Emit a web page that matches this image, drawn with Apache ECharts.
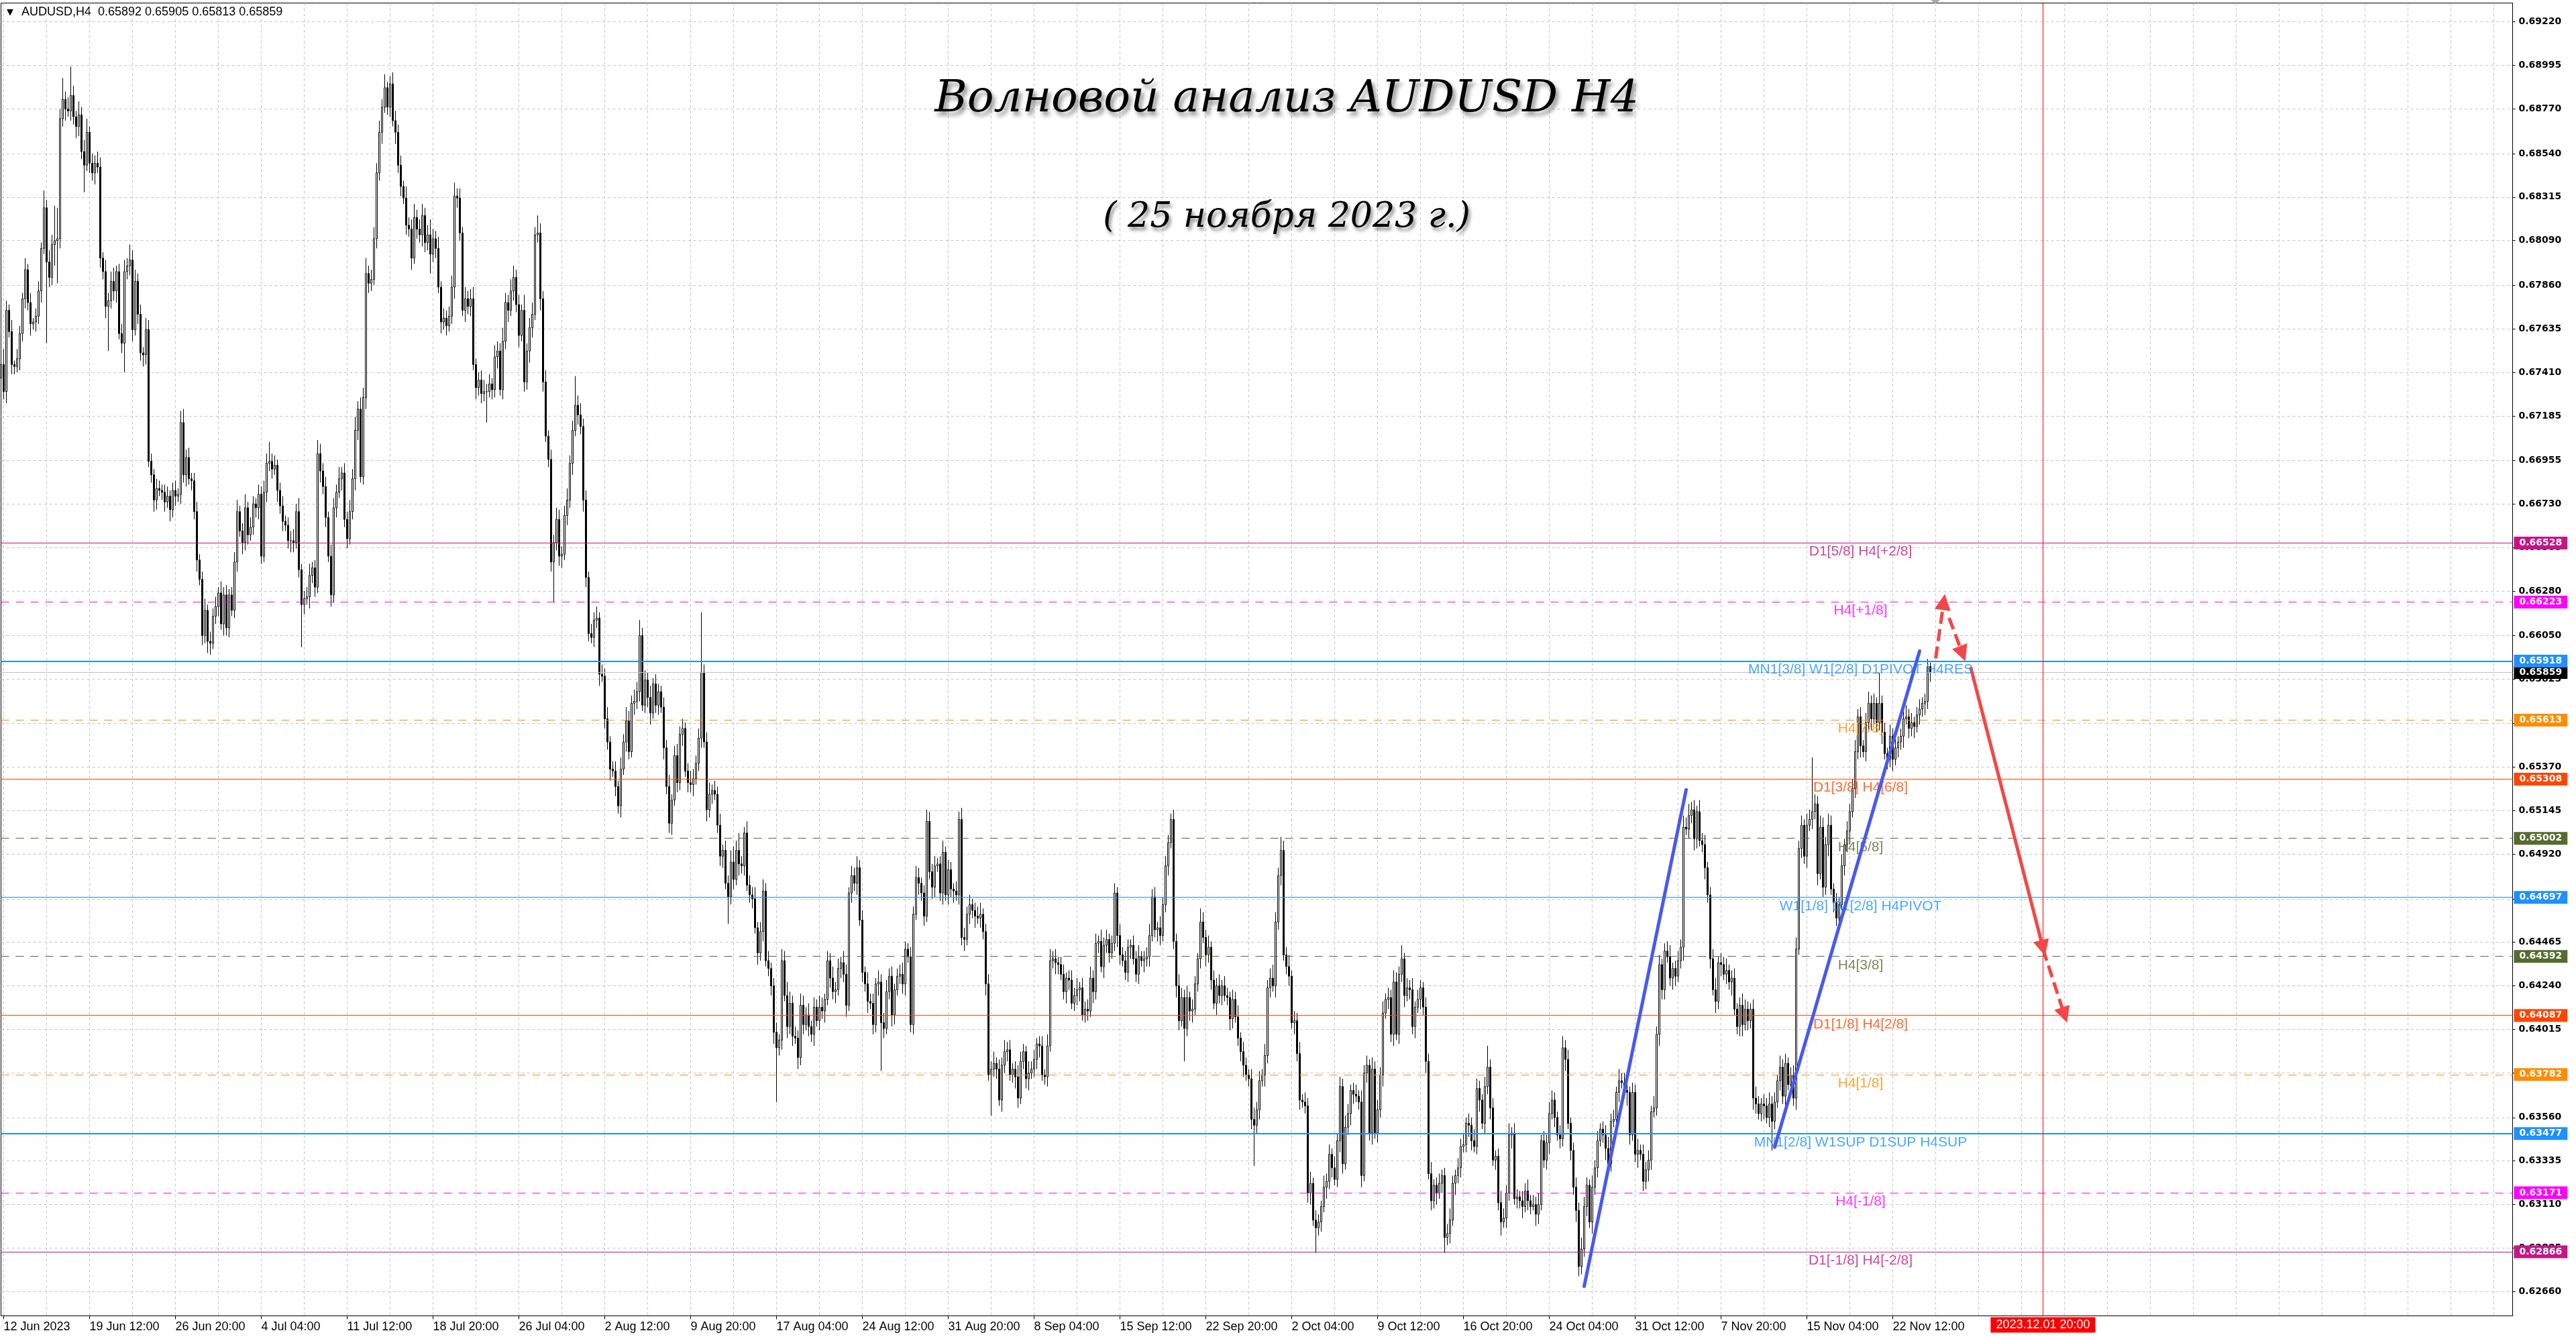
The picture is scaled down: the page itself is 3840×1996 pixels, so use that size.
<!DOCTYPE html>
<html>
<head>
<meta charset="utf-8">
<script src="https://cdn.jsdelivr.net/npm/echarts@6/dist/echarts.min.js"></script>
<style>
html,body{margin:0;padding:0;background:#ffffff;}
#chart{width:3840px;height:1996px;}
</style>
</head>
<body>
<div id="chart"></div>
<script>
// ---------------- DATA (prices in units of 0.0001) ----------------
const firstOpen = 6738;
const closes = [
6745,6731,6773,6762,6745,6744,6748,6761,6779,6794,6777,6766,6767,6770,6783,6805,6826,6798,6790,6807,
6809,6810,6872,6882,6877,6876,6884,6873,6868,6874,6855,6848,6865,6849,6844,6849,6847,6800,6793,6775,
6778,6788,6783,6793,6761,6756,6793,6796,6799,6763,6788,6771,6751,6750,6763,6695,6688,6675,6681,6680,
6679,6674,6677,6670,6680,6677,6678,6715,6688,6697,6686,6685,6669,6644,6634,6605,6618,6602,6601,6615,
6620,6627,6611,6626,6609,6626,6618,6643,6669,6659,6653,6671,6657,6661,6673,6671,6678,6646,6679,6694,
6695,6691,6693,6680,6672,6664,6662,6654,6654,6653,6669,6639,6621,6624,6625,6636,6640,6630,6699,6690,
6682,6666,6646,6626,6671,6679,6686,6689,6665,6655,6669,6686,6711,6722,6687,6728,6792,6787,6789,6810,
6844,6865,6878,6888,6878,6890,6871,6865,6848,6837,6831,6817,6815,6800,6821,6815,6812,6822,6808,6812,
6802,6810,6805,6785,6767,6769,6765,6770,6785,6832,6831,6813,6773,6779,6775,6779,6745,6733,6737,6730,
6731,6731,6735,6732,6749,6752,6732,6757,6777,6773,6783,6790,6776,6760,6773,6736,6752,6764,6771,6812,
6813,6779,6736,6708,6696,6643,6653,6665,6646,6647,6667,6675,6694,6711,6724,6719,6713,6675,6635,6606,
6604,6613,6614,6585,6584,6562,6550,6536,6535,6527,6517,6536,6550,6561,6545,6570,6571,6576,6605,6569,
6582,6573,6565,6580,6569,6576,6568,6547,6527,6508,6520,6543,6529,6554,6557,6535,6529,6528,6531,6539,
6552,6586,6550,6515,6523,6525,6523,6507,6491,6494,6477,6470,6488,6479,6494,6487,6486,6503,6476,6471,
6469,6454,6441,6452,6473,6437,6433,6424,6400,6392,6396,6437,6419,6403,6415,6398,6397,6387,6414,6404,
6409,6403,6399,6413,6406,6413,6411,6417,6437,6428,6421,6422,6433,6436,6430,6414,6472,6481,6477,6485,
6458,6431,6425,6416,6415,6404,6425,6426,6405,6402,6421,6429,6409,6422,6429,6430,6425,6443,6439,6404,
6461,6480,6477,6472,6460,6509,6483,6475,6486,6487,6472,6493,6471,6484,6474,6473,6471,6510,6449,6448,
6461,6466,6463,6460,6459,6461,6452,6425,6378,6381,6384,6381,6365,6383,6390,6391,6378,6381,6377,6366,
6385,6390,6376,6379,6381,6386,6394,6393,6378,6377,6393,6437,6438,6436,6435,6430,6421,6428,6427,6415,
6419,6422,6423,6409,6412,6411,6428,6421,6446,6447,6434,6445,6448,6441,6446,6472,6450,6440,6437,6431,
6444,6445,6438,6430,6439,6437,6438,6439,6450,6470,6453,6454,6450,6466,6486,6498,6510,6447,6424,6406,
6418,6402,6418,6411,6412,6425,6438,6457,6449,6440,6444,6427,6415,6424,6419,6424,6419,6418,6407,6417,
6408,6397,6390,6383,6378,6376,6355,6352,6360,6375,6378,6388,6423,6428,6424,6457,6481,6494,6440,6434,
6429,6405,6406,6389,6365,6364,6362,6317,6322,6303,6299,6302,6310,6320,6323,6337,6330,6324,6344,6372,
6332,6351,6358,6370,6368,6367,6364,6326,6379,6383,6348,6381,6348,6360,6378,6410,6417,6418,6399,6426,
6399,6430,6438,6419,6423,6422,6403,6413,6417,6423,6413,6385,6327,6313,6321,6317,6322,6326,6294,6296,
6303,6322,6326,6330,6341,6342,6353,6352,6344,6341,6371,6365,6353,6372,6382,6361,6334,6336,6312,6302,
6304,6317,6347,6348,6314,6315,6313,6310,6318,6313,6310,6311,6306,6311,6344,6334,6343,6358,6365,6356,
6347,6345,6392,6386,6353,6339,6320,6308,6279,6288,6310,6321,6302,6320,6330,6344,6350,6347,6340,6332,
6354,6355,6369,6375,6374,6370,6369,6347,6369,6337,6339,6337,6323,6329,6334,6359,6361,6399,6435,6422,
6442,6439,6428,6433,6429,6437,6444,6506,6505,6512,6515,6500,6514,6499,6497,6485,6471,6438,6422,6416,
6436,6435,6430,6432,6426,6428,6412,6403,6414,6404,6412,6406,6412,6366,6363,6358,6363,6362,6356,6363,
6354,6364,6375,6382,6367,6384,6373,6378,6366,6443,6495,6507,6491,6507,6510,6514,6518,6482,6506,6475,
6497,6507,6474,6467,6459,6466,6486,6497,6504,6514,6526,6545,6563,6548,6545,6560,6570,6562,6570,6560,
6570,6555,6544,6541,6553,6541,6547,6550,6553,6562,6563,6557,6560,6558,6564,6567,6570,6571,6589,6586
];
const upperWick = [
4,8,5,3,6,2,5,4,3,6,3,5,2,4,5,3,9,4,6,5,
18,16,5,11,4,6,15,5,3,7,4,6,7,3,5,4,6,5,3,6,
4,5,7,3,4,5,6,4,8,5,6,4,5,3,6,5,4,3,5,4,
3,4,5,3,4,5,3,6,7,4,5,3,4,5,3,4,6,3,5,4,
5,3,6,4,5,3,4,5,6,3,4,7,3,5,4,3,5,4,6,5,
10,4,5,3,4,5,3,4,5,6,4,7,3,4,5,6,3,4,7,5,
4,5,3,6,5,4,6,3,5,4,6,5,7,4,6,5,8,4,5,6,
5,6,4,7,3,4,6,5,4,5,3,6,4,5,7,4,5,6,4,5,
8,5,4,6,3,5,4,5,6,7,4,5,3,6,4,5,6,3,4,5,
6,4,5,3,6,5,4,7,5,4,6,6,4,5,3,8,4,5,6,4,
9,5,4,6,3,5,4,6,5,4,5,6,4,5,15,5,6,4,5,3,
5,4,6,3,5,4,6,3,4,5,3,6,4,7,5,4,6,5,8,4,
5,4,6,3,5,4,3,5,4,6,3,5,6,4,5,3,4,6,5,4,
5,31,4,5,6,3,5,4,6,3,5,4,6,8,5,9,4,3,6,5,
4,6,3,5,6,4,5,3,4,5,3,6,5,7,6,4,5,4,6,5,
4,6,3,5,4,6,5,3,5,4,6,4,5,3,6,5,3,5,4,6,
4,5,3,6,4,5,3,6,4,5,6,4,5,3,4,5,6,4,3,5,
4,6,5,3,4,6,5,4,5,3,4,6,3,5,4,3,5,4,6,5,
4,5,3,4,5,6,3,4,5,4,6,3,5,4,6,4,5,3,4,6,
5,4,3,6,4,5,3,4,5,3,6,6,4,5,3,4,5,3,4,5,
4,6,3,5,4,5,6,4,5,3,6,4,5,3,4,5,3,6,4,5,
4,3,5,4,6,3,4,5,6,4,5,3,6,4,5,4,3,5,4,6,
5,4,6,3,5,4,3,7,5,4,6,3,5,4,6,3,5,4,3,5,
4,6,3,5,4,3,5,6,4,5,3,6,4,5,7,5,4,7,5,4,
6,3,5,4,6,3,5,4,6,3,5,4,3,6,4,5,3,6,4,5,
4,6,5,3,4,5,3,6,4,5,3,6,4,5,4,6,3,5,4,6,
5,4,7,3,5,4,6,3,5,4,3,5,4,6,3,4,5,3,4,5,
6,4,3,5,4,6,3,5,4,6,5,4,3,5,11,4,5,3,4,6,
5,4,6,3,5,4,3,5,4,6,3,5,4,6,3,5,4,6,5,4,
3,5,6,4,5,3,4,5,4,6,5,4,3,6,4,5,3,4,5,6,
4,5,3,6,4,5,4,3,5,4,6,3,5,4,5,3,6,4,5,3,
4,5,6,3,4,5,4,6,5,6,4,5,3,6,4,5,3,4,5,6,
3,5,4,6,3,4,5,3,4,6,5,4,3,5,6,4,3,5,4,6,
4,5,3,6,4,5,3,4,5,6,4,5,3,6,5,28,5,4,6,5,
4,6,5,3,5,4,6,3,5,4,5,6,4,5,3,5,6,4,5,3,
16,4,5,3,6,4,5,3,4,5,6,4,5,3,4,5,3,4,4,2
];
const lowerWick = [
5,4,6,3,5,4,3,6,4,5,4,6,3,5,4,6,3,42,5,4,
11,22,5,4,6,3,5,4,6,5,4,14,3,5,4,6,3,5,4,6,
23,4,5,6,3,5,15,4,5,6,3,5,4,6,5,3,4,6,5,3,
4,5,3,6,4,5,3,5,4,6,3,5,4,6,3,5,4,6,6,3,
4,5,3,6,4,5,3,4,5,3,6,4,5,3,4,5,6,4,3,5,
4,5,3,6,4,5,3,4,6,5,3,4,22,5,3,6,4,5,3,6,
4,5,3,6,4,5,3,6,4,5,3,4,6,5,3,4,6,5,4,3,
5,4,6,3,4,5,3,6,4,5,3,5,4,6,3,5,4,6,5,4,
10,4,5,3,6,4,5,3,4,6,5,4,3,6,4,5,3,6,4,5,
4,16,3,5,4,6,3,5,4,6,3,5,4,6,3,5,4,6,5,3,
4,6,5,3,4,5,21,4,5,6,3,5,4,6,3,5,4,6,5,4,
3,5,4,6,3,5,4,6,3,5,4,6,3,5,4,3,6,4,5,3,
4,5,6,3,4,5,3,6,4,5,6,3,5,4,6,3,5,4,6,3,
4,5,3,6,4,5,3,4,5,6,3,14,4,5,3,6,4,5,3,4,
5,3,6,4,5,3,4,5,6,28,4,5,3,6,4,5,3,6,4,5,
3,5,4,6,3,5,4,6,3,5,4,6,3,5,4,6,3,5,4,6,
3,5,4,6,3,5,4,6,25,5,3,4,6,5,3,4,5,6,3,4,
5,3,6,4,5,3,4,6,5,3,4,6,3,5,4,6,3,5,4,6,
3,5,4,6,3,5,4,6,3,21,4,5,3,6,4,5,3,4,6,5,
3,4,5,6,3,4,5,6,3,4,5,3,4,6,5,3,4,6,5,3,
4,5,6,3,4,5,3,6,4,5,3,6,4,5,3,4,6,5,3,4,
5,6,3,4,5,3,6,4,5,3,4,6,5,3,4,5,3,4,6,5,
3,17,4,5,6,3,4,5,3,6,4,5,3,6,4,5,3,4,6,5,
3,4,5,6,3,4,5,21,4,5,3,6,4,5,3,6,4,5,3,4,
5,3,6,4,5,3,4,5,6,3,13,4,5,3,6,4,5,3,4,6,
5,3,4,6,5,3,4,6,3,5,4,6,3,5,4,6,3,5,4,6,
3,5,4,6,3,5,4,6,3,5,4,6,3,5,4,6,3,5,8,4,
5,3,6,4,5,3,4,6,5,3,4,6,3,5,4,6,3,5,4,7,
3,5,4,7,3,5,4,6,3,5,4,2,6,5,3,4,5,6,3,5,
3,5,4,6,3,5,4,6,5,4,4,5,3,6,4,5,3,4,6,5,
4,3,6,5,3,4,7,5,3,4,7,3,5,4,6,5,3,4,6,5,
5,3,4,6,5,3,4,7,3,5,4,6,5,3,4,6,4,5,3,6,
4,6,3,5,4,7,3,4,5,6,3,5,4,6,5,3,4,7,3,5,
15,4,3,5,4,6,3,5,4,6,3,5,4,6,3,5,4,6,3,5,
4,6,3,5,4,6,3,5,4,7,3,5,4,6,3,5,4,6,3,5,
4,6,3,5,4,6,3,5,4,6,3,5,4,6,3,5,4,6,4,5
];
const xTickLabels = ['12 Jun 2023','19 Jun 12:00','26 Jun 20:00','4 Jul 04:00','11 Jul 12:00','18 Jul 20:00','26 Jul 04:00','2 Aug 12:00','9 Aug 20:00','17 Aug 04:00','24 Aug 12:00','31 Aug 20:00','8 Sep 04:00','15 Sep 12:00','22 Sep 20:00','2 Oct 04:00','9 Oct 12:00','16 Oct 20:00','24 Oct 04:00','31 Oct 12:00','7 Nov 20:00','15 Nov 04:00','22 Nov 12:00'];
const yTickLabels = ['0.62660','0.62885','0.63110','0.63335','0.63560','0.63790','0.64015','0.64240','0.64465','0.64690','0.64920','0.65145','0.65370','0.65595','0.65825','0.66050','0.66280','0.66505','0.66730','0.66955','0.67185','0.67410','0.67635','0.67860','0.68090','0.68315','0.68540','0.68770','0.68995','0.69220'];
const levelPrices = [0.66528,0.66223,0.65918,0.65613,0.65308,0.65002,0.64697,0.64392,0.64087,0.63782,0.63477,0.63171,0.62866];
const levelNames = ['D1[5/8] H4[+2/8]','H4[+1/8]','MN1[3/8] W1[2/8] D1PIVOT H4RES','H4[7/8]','D1[3/8] H4[6/8]','H4[5/8]','W1[1/8] D1[2/8] H4PIVOT','H4[3/8]','D1[1/8] H4[2/8]','H4[1/8]','MN1[2/8] W1SUP D1SUP H4SUP','H4[-1/8]','D1[-1/8] H4[-2/8]'];
const currentPrice = 0.65859;
const headerValues = ['0.65892','0.65905','0.65813','0.65859'];
const futureLineSlot = 761;
const futureLineLabel = '2023.12.01 20:00';
const trendLineA = [[590, 0.62688], [628, 0.65253]];
const trendLineB = [[661, 0.63407], [715, 0.65970]];
const arrowStarts = [[721, 0.65932], [726, 0.66141], [734, 0.65888], [761, 0.64430]];
const arrowEnds   = [[724, 0.66223], [731, 0.65956], [761, 0.64436], [769, 0.64089]];
const titleText = 'Волновой анализ AUDUSD H4';
const subtitleText = '( 25 ноября 2023 г.)';

// ---------------- STYLE / LAYOUT ----------------
const SLOT_COUNT = 937;
const levelLabelSlot = 693;
const levelColors = ['#C71585','#FF00FF','#1E90FF','#FF8C00','#FF4500','#556B2F','#1E90FF','#556B2F','#FF4500','#FF8C00','#1E90FF','#FF00FF','#C71585'];
const levelDashed = [false,true,false,true,false,true,false,true,false,true,false,true,false];
const levelWidths = [1,1,2,1,1,1,1,1,1,1,2,1,1];
const arrowDashed = [true,true,false,true];
const arrowColor = '#F24747';
const gridColor = '#c4c4c4';

const categories = Array.from({length: SLOT_COUNT}, (_, i) => String(i));
const candles = closes.map((c, i) => {
  const o = i === 0 ? firstOpen : closes[i - 1];
  return [o / 1e4, c / 1e4, (Math.min(o, c) - lowerWick[i]) / 1e4, (Math.max(o, c) + upperWick[i]) / 1e4];
});
const yTickValues = yTickLabels.map(Number);

const badge = (bg) => ({
  show: true, position: 'end', distance: 2,
  backgroundColor: bg, color: '#ffffff',
  fontFamily: 'DejaVu Sans', fontWeight: 'bold', fontSize: 14,
  padding: [3, 8, 2, 8]
});

const levelMarks = [
  { yAxis: currentPrice, lineStyle: { color: '#c0c0c0', width: 1, type: 'solid' },
    label: Object.assign(badge('#000000'), { formatter: currentPrice.toFixed(5) }) }
].concat(levelPrices.map((p, i) => ({
  yAxis: p,
  lineStyle: { color: levelColors[i], width: levelWidths[i], type: levelDashed[i] ? [12, 10] : 'solid' },
  label: Object.assign(badge(levelColors[i]), { formatter: p.toFixed(5) })
}))).concat([{
  xAxis: futureLineSlot,
  lineStyle: { color: '#ff0000', width: 1, type: 'solid' },
  label: { show: true, position: 'start', distance: 2, formatter: futureLineLabel,
    backgroundColor: '#ff0000', color: '#ffffff', fontFamily: 'Liberation Sans', fontSize: 18, padding: [3, 8, 2, 8] }
}]);

const arrowMarks = arrowStarts.map((s, i) => [
  { coord: s, symbol: 'none', lineStyle: { color: arrowColor, width: 5, type: arrowDashed[i] ? [18, 8] : 'solid', cap: 'butt' } },
  { coord: arrowEnds[i], symbol: 'triangle', symbolSize: 24, itemStyle: { color: arrowColor } }
]);

const chart = echarts.init(document.getElementById('chart'), null, { renderer: 'canvas' });
chart.setOption({
  animation: false,
  backgroundColor: '#ffffff',
  title: [
    { text: titleText, left: 1918, top: 116, textAlign: 'center', padding: 0,
      textStyle: { fontFamily: 'DejaVu Serif', fontStyle: 'italic', fontWeight: 'normal', fontSize: 66, color: '#000',
        textShadowColor: 'rgba(0,0,0,0.45)', textShadowBlur: 6, textShadowOffsetX: 4, textShadowOffsetY: 6 } },
    { text: subtitleText, left: 1918, top: 298, textAlign: 'center', padding: 0,
      textStyle: { fontFamily: 'DejaVu Serif', fontStyle: 'italic', fontWeight: 'normal', fontSize: 52, color: '#000',
        textShadowColor: 'rgba(0,0,0,0.45)', textShadowBlur: 5, textShadowOffsetX: 3, textShadowOffsetY: 5 } }
  ],
  graphic: [
    { type: 'text', left: 10, top: 12, style: { text: '▼', fontSize: 13, fontFamily: 'DejaVu Sans', fill: '#000' } },
    { type: 'text', left: 32, top: 9, style: { text: 'AUDUSD,H4  ' + headerValues.join(' '), fontSize: 18, fontFamily: 'Liberation Sans', fill: '#000' } },
    { type: 'polygon', shape: { points: [[2878, 0], [2892, 0], [2885, 6]] }, style: { fill: '#a8a8a8' } }
  ],
  grid: { left: 1.5, top: 4.5, width: 3744, height: 1957, show: true, borderColor: '#000', borderWidth: 1, backgroundColor: '#ffffff' },
  xAxis: {
    type: 'category', data: categories, boundaryGap: false,
    axisLine: { show: true, lineStyle: { color: '#000', width: 1 } },
    axisTick: { show: true, interval: (i) => (i - 1) % 32 === 0 && i <= 705, length: 5, lineStyle: { color: '#000' } },
    axisLabel: {
      show: true, interval: (i) => (i - 1) % 32 === 0 && i <= 705,
      formatter: (v, i) => xTickLabels[(i - 1) / 32] || '',
      align: 'left', color: '#000', fontFamily: 'Liberation Sans', fontSize: 18, margin: 8
    },
    splitLine: { show: true, interval: (i) => (i - 1) % 16 === 0, lineStyle: { color: gridColor, type: [4, 4], width: 1 } }
  },
  yAxis: {
    type: 'value', position: 'right', min: 0.625352, max: 0.693177, scale: true,
    axisLine: { show: true, lineStyle: { color: '#000', width: 1 } },
    axisTick: { show: true, customValues: yTickValues, length: 4, lineStyle: { color: '#000' } },
    axisLabel: { show: true, customValues: yTickValues, formatter: (v) => Number(v).toFixed(5),
      color: '#000', fontFamily: 'DejaVu Sans', fontWeight: 'bold', fontSize: 14, margin: 9 },
    splitLine: { show: true, lineStyle: { color: gridColor, type: [4, 4], width: 1 } }
  },
  series: [
    {
      type: 'candlestick', data: candles, barWidth: 3, z: 3, large: false,
      itemStyle: { color: '#ffffff', color0: '#000000', borderColor: '#000000', borderColor0: '#000000', borderColorDoji: '#000000', borderWidth: 1 }
    },
    {
      type: 'line', data: [], z: 4, silent: true,
      markLine: { silent: true, precision: 6, symbol: ['none', 'none'], animation: false, data: levelMarks }
    },
    {
      type: 'scatter', z: 6, silent: true, symbol: 'rect', symbolSize: 1,
      itemStyle: { color: 'rgba(0,0,0,0)' },
      data: levelPrices.map((p, i) => ({ value: [levelLabelSlot, p], label: { color: levelColors[i] } })),
      label: { show: true, position: 'bottom', distance: 2, formatter: (p) => levelNames[p.dataIndex],
        fontFamily: 'Liberation Sans', fontSize: 21 }
    },
    {
      type: 'line', data: trendLineA, z: 7, silent: true, showSymbol: false, symbol: 'none',
      lineStyle: { color: '#4759F0', width: 5, cap: 'round' }
    },
    {
      type: 'line', data: trendLineB, z: 7, silent: true, showSymbol: false, symbol: 'none',
      lineStyle: { color: '#4759F0', width: 5, cap: 'round' }
    },
    {
      type: 'line', data: [], z: 8, silent: true, itemStyle: { color: arrowColor },
      markLine: { silent: true, precision: 6, symbol: ['none', 'triangle'], symbolSize: 24, animation: false,
        itemStyle: { color: arrowColor }, label: { show: false }, data: arrowMarks }
    }
  ]
});
</script>
</body>
</html>
